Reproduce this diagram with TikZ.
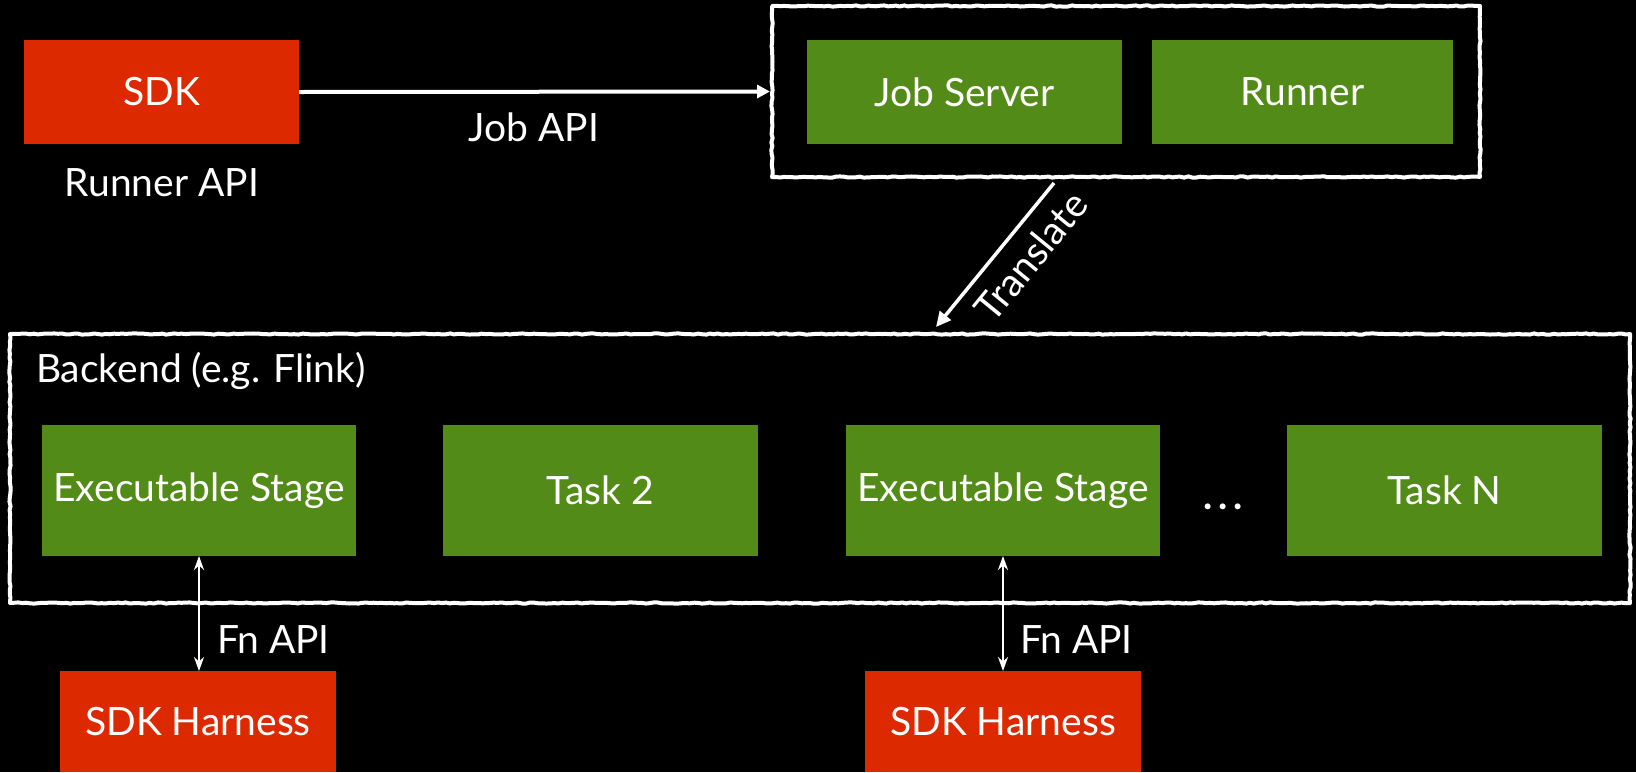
\documentclass[tikz,border=0pt]{standalone}
\usepackage{fontspec}
\setmainfont{Lato}
\usetikzlibrary{arrows.meta,decorations.pathmorphing}
\definecolor{sdkred}{RGB}{221,41,0}
\definecolor{boxgreen}{RGB}{82,139,24}
\begin{document}
\begin{tikzpicture}[x=1pt,y=-1pt,
  every node/.style={text=white, font=\fontsize{39}{44}\selectfont, inner sep=0pt, outer sep=0pt},
  redbox/.style={fill=sdkred},
  greenbox/.style={fill=boxgreen},
  holder/.style={},
  frame/.style={draw=white, line width=4pt, line join=round, decorate,
    decoration={random steps, segment length=4pt, amplitude=0.6pt}},
  flow/.style={draw=white, line width=4pt, -{Triangle[length=13pt,width=13pt]}},
  fnarrow/.style={draw=white, line width=2.8pt, {Stealth[length=14pt,width=10pt]}-{Stealth[length=14pt,width=10pt]}},
  lbl/.style={}]
\pgfmathsetseed{7}
\fill[black] (0,0) rectangle (1636,772);
\useasboundingbox (0,0) rectangle (1636,772);

% top row
\node[redbox, minimum width=275pt, minimum height=104pt] (sdk) at (161.5,92) {SDK};
\node[lbl] (runnerapi) at (162,183) {Runner API};

\node[holder, minimum width=708pt, minimum height=171pt] (jobc) at (1126,91.5) {};
\draw[frame] (jobc.north west) rectangle (jobc.south east);
\node[greenbox, minimum width=315pt, minimum height=104pt] (jobserver) at (964.5,92) {Job Server};
\node[greenbox, minimum width=301pt, minimum height=104pt] (runner) at (1302.5,92) {Runner};

\draw[flow] (sdk.east) -- ([xshift=-2pt]jobc.west);
\node[lbl] (jobapi) at (534,127) {Job API};

% backend
\node[holder, minimum width=1620pt, minimum height=269pt] (backend) at (820,468.5) {};
\draw[frame] (backend.north west) rectangle (backend.south east);
\node[lbl, anchor=west] (backendlbl) at (36,371) {Backend (e.g. Flink)};

\node[greenbox, minimum width=314pt, minimum height=131pt] (exec1) at (199,490.5) {Executable Stage};
\node[greenbox, minimum width=315pt, minimum height=131pt] (task2) at (600.5,490.5) {Task 2};
\node[greenbox, minimum width=314pt, minimum height=131pt] (exec2) at (1003,490.5) {Executable Stage};
\node[lbl, anchor=base, font=\fontsize{39}{44}\selectfont\bfseries] (dots) at (1223,509) {.\hspace{6pt}.\hspace{6pt}.};
\node[greenbox, minimum width=315pt, minimum height=131pt] (taskn) at (1444.5,490.5) {Task N};

% translate
\coordinate (tstart) at (1054,183);
\coordinate (tend) at (936,327);
\draw[flow, line width=3.5pt, -{Triangle[length=15pt,width=14pt]}] (tstart) -- (tend);
\node[lbl, rotate=50.7] (translbl) at (1031,256) {Translate};

% harnesses
\node[redbox, minimum width=276pt, minimum height=101pt] (harness1) at (198,721.5) {SDK Harness};
\node[redbox, minimum width=276pt, minimum height=101pt] (harness2) at (1003,721.5) {SDK Harness};

\draw[fnarrow] (exec1.south) -- (exec1.south |- harness1.north);
\draw[fnarrow] (exec2.south) -- (exec2.south |- harness2.north);
\node[lbl, anchor=west] (fn1) at (217,640) {Fn API};
\node[lbl, anchor=west] (fn2) at (1020,640) {Fn API};
\end{tikzpicture}
\end{document}
